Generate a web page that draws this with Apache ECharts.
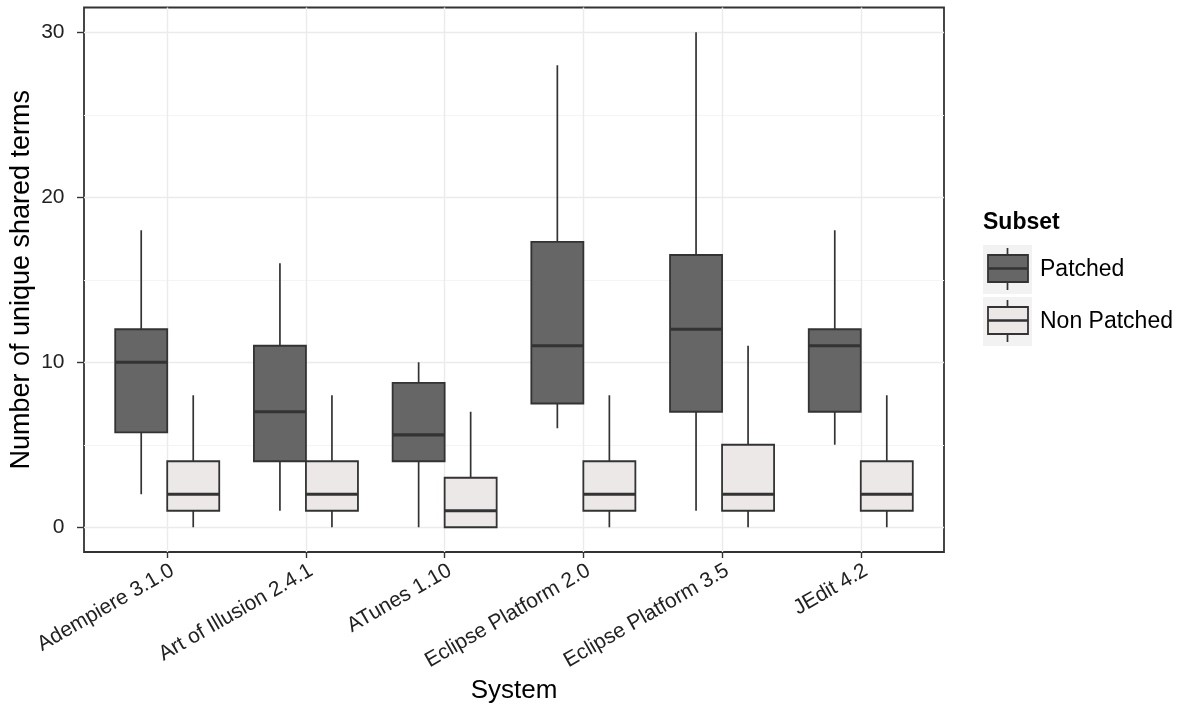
<!DOCTYPE html>
<html>
<head>
<meta charset="utf-8">
<script src="https://cdn.jsdelivr.net/npm/echarts@6/dist/echarts.min.js"></script>
<style>
html,body{margin:0;padding:0;background:#fff;}
#chart{width:1180px;height:728px;}
</style>
</head>
<body>
<div id="chart"></div>
<script>
// ---- data ----
const categories = ['Adempiere 3.1.0', 'Art of Illusion 2.4.1', 'ATunes 1.10', 'Eclipse Platform 2.0', 'Eclipse Platform 3.5', 'JEdit 4.2'];
// [lower whisker, Q1, median, Q3, upper whisker]
const patched = [
  [2, 5.75, 10, 12, 18],
  [1, 4, 7, 11, 16],
  [0, 4, 5.6, 8.75, 10],
  [6, 7.5, 11, 17.3, 28],
  [1, 7, 12, 16.5, 30],
  [5, 7, 11, 12, 18]
];
const nonPatched = [
  [0, 1, 2, 4, 8],
  [0, 1, 2, 4, 8],
  [0, 0, 1, 3, 7],
  [0, 1, 2, 4, 8],
  [0, 1, 2, 5, 11],
  [0, 1, 2, 4, 8]
];
const yTicks = [0, 10, 20, 30];
const yMinorTicks = [5, 15, 25];
const seriesNames = ['Patched', 'Non Patched'];
const fills = ['#666666', '#ece8e8'];

const FONT = '"Liberation Sans", Arial, sans-serif';
const LINE = '#333333';
const dodge = 0.75;
const boxW = dodge / 2;

function makeRender(offset, fill) {
  return function (params, api) {
    const x = api.value(0) + offset;
    const lo = api.coord([x, api.value(1)]);
    const q1 = api.coord([x, api.value(2)]);
    const md = api.coord([x, api.value(3)]);
    const q3 = api.coord([x, api.value(4)]);
    const hi = api.coord([x, api.value(5)]);
    const w = api.size([boxW, 0])[0];
    const cx = lo[0];
    const children = [];
    if (hi[1] < q3[1]) children.push({type: 'line', shape: {x1: cx, y1: hi[1], x2: cx, y2: q3[1]}, style: {stroke: LINE, lineWidth: 1.7}});
    if (lo[1] > q1[1]) children.push({type: 'line', shape: {x1: cx, y1: q1[1], x2: cx, y2: lo[1]}, style: {stroke: LINE, lineWidth: 1.7}});
    children.push({type: 'rect', shape: {x: cx - w / 2, y: q3[1], width: w, height: q1[1] - q3[1]}, style: {fill: fill, stroke: LINE, lineWidth: 1.8}});
    children.push({type: 'line', shape: {x1: cx - w / 2, y1: md[1], x2: cx + w / 2, y2: md[1]}, style: {stroke: LINE, lineWidth: 3.2}});
    return {type: 'group', children: children};
  };
}

function toData(arr) {
  return arr.map((v, i) => [i + 1].concat(v));
}

// legend drawn as graphic
function legendKey(top, fill) {
  return [
    {type: 'rect', shape: {x: 983, y: top, width: 49, height: 49}, style: {fill: '#f2f2f2'}},
    {type: 'line', shape: {x1: 1007.5, y1: top + 3, x2: 1007.5, y2: top + 45}, style: {stroke: LINE, lineWidth: 1.7}},
    {type: 'rect', shape: {x: 988, y: top + 10, width: 40, height: 27}, style: {fill: fill, stroke: LINE, lineWidth: 1.8}},
    {type: 'line', shape: {x1: 988, y1: top + 23.5, x2: 1028, y2: top + 23.5}, style: {stroke: LINE, lineWidth: 2.4}}
  ];
}

const chart = echarts.init(document.getElementById('chart'), null, {renderer: 'canvas'});
chart.setOption({
  backgroundColor: '#ffffff',
  animation: false,
  grid: {left: 84, top: 7.5, width: 860, height: 544.5, show: true, borderColor: '#333333', borderWidth: 1.8, backgroundColor: '#ffffff', containLabel: false, outerBoundsMode: 'none'},
  xAxis: {
    type: 'value', min: 0.4, max: 6.6,
    name: 'System', nameLocation: 'middle', nameGap: 126, nameMoveOverlap: false,
    nameTextStyle: {fontFamily: FONT, fontSize: 26, color: '#000'},
    axisLine: {show: false, onZero: false},
    axisTick: {show: true, length: 6, lineStyle: {color: LINE, width: 1.4}, customValues: [1, 2, 3, 4, 5, 6]},
    axisLabel: {
      customValues: [1, 2, 3, 4, 5, 6], rotate: 30, margin: 8,
      align: 'right', verticalAlign: 'top',
      fontFamily: FONT, fontSize: 21, color: '#222',
      formatter: v => categories[Math.round(v) - 1]
    },
    splitLine: {show: true, lineStyle: {color: '#ebebeb', width: 1.4}}
  },
  yAxis: [{
    type: 'value', min: -1.5, max: 31.5,
    name: 'Number of unique shared terms', nameLocation: 'middle', nameGap: 49, nameMoveOverlap: false,
    nameTextStyle: {fontFamily: FONT, fontSize: 27, color: '#000'},
    axisLine: {show: false, onZero: false},
    axisTick: {show: true, length: 7, lineStyle: {color: LINE, width: 1.4}, customValues: yTicks},
    axisLabel: {customValues: yTicks, margin: 19.5, fontFamily: FONT, fontSize: 21, color: '#222'},
    splitLine: {show: true, lineStyle: {color: '#ebebeb', width: 1.4}}
  }, {
    type: 'value', min: -1.5, max: 31.5, position: 'left',
    axisLine: {show: false, onZero: false},
    axisTick: {show: false, customValues: yMinorTicks},
    axisLabel: {show: false, customValues: yMinorTicks},
    splitLine: {show: true, lineStyle: {color: '#f4f4f4', width: 1}}
  }],
  series: [
    {name: seriesNames[0], type: 'custom', renderItem: makeRender(-boxW / 2, fills[0]), encode: {x: 0, y: [1, 2, 3, 4, 5]}, data: toData(patched), z: 3},
    {name: seriesNames[1], type: 'custom', renderItem: makeRender(boxW / 2, fills[1]), encode: {x: 0, y: [1, 2, 3, 4, 5]}, data: toData(nonPatched), z: 3}
  ],
  graphic: [
    {type: 'text', left: 983, top: 211, style: {text: 'Subset', font: 'bold 23px ' + FONT, fill: '#000'}},
    {type: 'group', children: legendKey(245, fills[0])},
    {type: 'group', children: legendKey(297, fills[1])},
    {type: 'text', left: 1040, top: 258, style: {text: seriesNames[0], font: '23px ' + FONT, fill: '#000'}},
    {type: 'text', left: 1040, top: 310, style: {text: seriesNames[1], font: '23px ' + FONT, fill: '#000'}}
  ]
});
</script>
</body>
</html>
